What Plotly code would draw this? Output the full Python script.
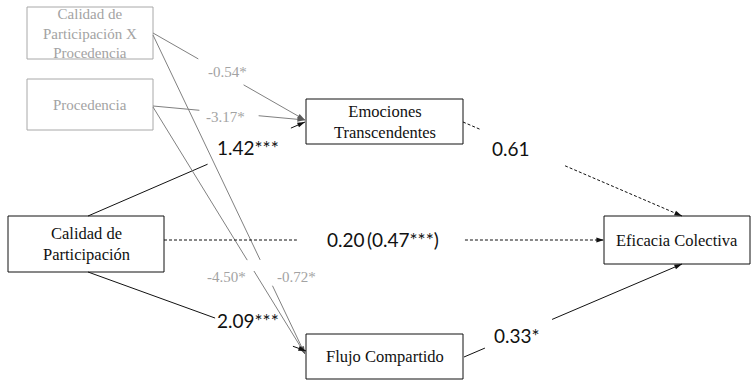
import math
import plotly.graph_objects as go

# ---- path model: variables and estimated coefficients ----
variables = ["CPxP", "Proc", "Calidad", "Emociones", "Flujo", "Eficacia"]
variable_labels = [
    "Calidad de<br>Participación X<br>Procedencia",
    "Procedencia",
    "Calidad de<br>Participación",
    "Emociones<br>Transcendentes",
    "Flujo Compartido",
    "Eficacia Colectiva",
]
moderator_vars = ["CPxP", "Proc"]

path_from = ["CPxP", "Proc", "Calidad", "CPxP", "Proc", "Calidad", "Calidad", "Emociones", "Flujo"]
path_to = ["Emociones", "Emociones", "Emociones", "Flujo", "Flujo", "Flujo", "Eficacia", "Eficacia", "Eficacia"]
path_coef = [-0.54, -3.17, 1.42, -0.72, -4.50, 2.09, 0.20, 0.61, 0.33]
path_sig = ["*", "*", "***", "*", "*", "***", "", "", "*"]
total_effect = {"coef": 0.47, "sig": "***"}  # total effect Calidad -> Eficacia

# ---- diagram layout (pixel space, y grows downward) ----
W, H = 752, 380
boxes = {
    "CPxP": (27, 7, 153, 59),
    "Proc": (27, 79, 153, 130),
    "Calidad": (8, 216, 164, 272),
    "Emociones": (306, 99, 463, 144),
    "Flujo": (306, 334, 463, 379),
    "Eficacia": (604, 216, 750, 264),
}
# start / end anchor of each path, label centre, gap (fractions along the path)
path_geom = [
    ((153, 33), (305, 120), (227, 72), (0.298, 0.596)),
    ((153, 106), (305, 120), (225, 117), (0.305, 0.695)),
    ((88, 216), (305, 122), (248, 147), (0.551, 0.935)),
    ((153, 35), (305, 354), (296, 277), (0.705, 0.786)),
    ((153, 107), (305, 354), (226, 277), (0.620, 0.664)),
    ((88, 272), (306, 351), (248, 320), (0.583, 0.940)),
    ((164, 240), (604, 240), (383, 239), (0.302, 0.684)),
    ((463, 122), (682, 216), (511, 148), (0.078, 0.466)),
    ((464, 357), (682, 264), (517, 335), (0.096, 0.404)),
]

GRAY_TEXT = "#a3a3a3"
GRAY_BOX = "#a8a8a8"
GRAY_LINE = "#808080"
GRAY_HEAD = "#5a5a5a"
BLACK = "#111111"
SERIF = "Liberation Serif, Times New Roman, serif"
NUM_FONT = "Lato, sans-serif"

fig = go.Figure()
shapes = []
annotations = []

# variable boxes
for name, label in zip(variables, variable_labels):
    x0, y0, x1, y1 = boxes[name]
    grey = name in moderator_vars
    shapes.append(dict(type="rect", x0=x0, y0=y0, x1=x1, y1=y1, xref="x", yref="y",
                       line=dict(color=GRAY_BOX if grey else BLACK, width=1),
                       fillcolor="white", layer="below"))
    annotations.append(dict(x=(x0 + x1) / 2, y=(y0 + y1) / 2, xref="x", yref="y",
                            text=label, showarrow=False,
                            font=dict(family=SERIF, size=15 if grey else 16.5,
                                      color=GRAY_TEXT if grey else BLACK)))


def point(p0, p1, t):
    return (p0[0] + (p1[0] - p0[0]) * t, p0[1] + (p1[1] - p0[1]) * t)


head_x, head_y, head_angle, head_color = [], [], [], []

# paths
for src, dst, coef, sig, geom in zip(path_from, path_to, path_coef, path_sig, path_geom):
    p0, p1, lab, (t0, t1) = geom
    grey = src in moderator_vars
    dashed = sig == ""
    line = dict(color=GRAY_LINE if grey else BLACK, width=1,
                dash="3px,2px" if dashed else "solid")
    a = point(p0, p1, t0)
    b = point(p0, p1, t1)
    shapes.append(dict(type="line", x0=p0[0], y0=p0[1], x1=a[0], y1=a[1],
                       xref="x", yref="y", line=line, layer="below"))
    shapes.append(dict(type="line", x0=b[0], y0=b[1], x1=p1[0], y1=p1[1],
                       xref="x", yref="y", line=line, layer="below"))
    # arrow head at the target end (screen y points down)
    dx, dy = p1[0] - b[0], p1[1] - b[1]
    head_x.append(p1[0])
    head_y.append(p1[1])
    head_angle.append(math.degrees(math.atan2(dx, -dy)))
    head_color.append(GRAY_HEAD if grey else BLACK)
    # coefficient label
    text = f"{coef:.2f}{sig}"
    if src == "Calidad" and dst == "Eficacia":
        text = f"{coef:.2f}\u2009({total_effect['coef']:.2f}{total_effect['sig']})"
    annotations.append(dict(x=lab[0], y=lab[1], xref="x", yref="y", text=text,
                            showarrow=False,
                            font=dict(family=SERIF if grey else NUM_FONT,
                                      size=15 if grey else 19,
                                      color=GRAY_TEXT if grey else BLACK)))

fig.add_trace(go.Scatter(
    x=head_x, y=head_y, mode="markers", hoverinfo="skip",
    marker=dict(symbol="arrow", size=8, angle=head_angle, color=head_color,
                line=dict(width=0)),
))

fig.update_layout(
    width=W, height=H,
    margin=dict(l=0, r=0, t=0, b=0),
    paper_bgcolor="white", plot_bgcolor="white",
    xaxis=dict(range=[0, W], visible=False, fixedrange=True),
    yaxis=dict(range=[H, 0], visible=False, fixedrange=True),
    shapes=shapes, annotations=annotations,
    showlegend=False,
)

fig.write_html("out.html")
